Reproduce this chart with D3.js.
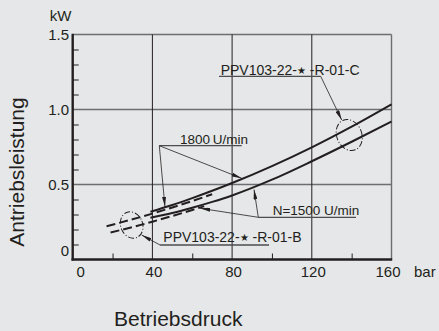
<!DOCTYPE html>
<html>
<head>
<meta charset="utf-8">
<script src="https://cdn.jsdelivr.net/npm/d3@7"></script>
<style>
  html, body { margin: 0; padding: 0; background: #e6e7e8; }
  svg { display: block; font-family: "Liberation Sans", Arial, Helvetica, sans-serif; }
</style>
</head>
<body>
<svg id="chart" width="439" height="331"></svg>
<script>
// Drive power vs. operating pressure, two pump variants at two speeds
const pressureTicks = [0, 40, 80, 120, 160];
const pressureMinor = [20, 60, 100, 140];
const powerTicks = [0, 0.5, 1.0, 1.5];
const powerTickLabels = ["0", "0.5", "1.0", "1.5"];
const powerMinor = [0.1, 0.2, 0.3, 0.4, 0.6, 0.7, 0.8, 0.9, 1.1, 1.2, 1.3, 1.4];

// PPV103-22-*-R-01-C (solid), bar -> kW
const c1800 = [[39, 0.318], [50, 0.363], [60, 0.409], [70, 0.458], [80, 0.51], [100, 0.623], [120, 0.748], [140, 0.886], [160, 1.035]];
const c1500 = [[39, 0.278], [50, 0.31], [60, 0.345], [70, 0.384], [80, 0.427], [100, 0.532], [120, 0.655], [140, 0.785], [160, 0.92]];
// PPV103-22-*-R-01-B (dashed)
const b1800 = [[17, 0.222], [30, 0.268], [40, 0.306], [50, 0.347], [60, 0.39], [70, 0.435]];
const b1500 = [[19, 0.18], [30, 0.216], [40, 0.252], [50, 0.29], [60, 0.33], [66, 0.355]];

const ink = "#231f20";
const grid = "#6d6e71";

const svg = d3.select("#chart");
const x = d3.scaleLinear().domain([0, 160]).range([72.7, 391.5]);
const y = d3.scaleLinear().domain([0, 1.5]).range([259.5, 34.5]);

// arrowhead marker
svg.append("defs").append("marker")
  .attr("id", "arrow").attr("viewBox", "0 0 10 4")
  .attr("refX", 10).attr("refY", 2)
  .attr("markerWidth", 10).attr("markerHeight", 4)
  .attr("markerUnits", "userSpaceOnUse")
  .attr("orient", "auto")
  .append("path").attr("d", "M0,0 L10,2 L0,4 Z").attr("fill", ink);

// horizontal grid (1.0, 0.5) and top border
svg.append("g").selectAll("line").data([0.5, 1.0, 1.5]).join("line")
  .attr("x1", x(0)).attr("x2", x(160))
  .attr("y1", d => y(d)).attr("y2", d => y(d))
  .attr("stroke", grid).attr("stroke-width", 1.4);

// vertical grid at 40/80/120 and right border
svg.append("g").selectAll("line").data([40, 80, 120]).join("line")
  .attr("x1", d => x(d)).attr("x2", d => x(d))
  .attr("y1", y(0)).attr("y2", y(1.5))
  .attr("stroke", ink).attr("stroke-width", 1);
svg.append("line")
  .attr("x1", x(160)).attr("x2", x(160)).attr("y1", y(0)).attr("y2", y(1.5))
  .attr("stroke", grid).attr("stroke-width", 1.4);

// minor ticks on the left axis, pointing inward
svg.append("g").attr("transform", `translate(${x(0)},0)`)
  .call(d3.axisRight(y).tickValues(powerMinor).tickSize(6).tickFormat(""))
  .call(g => g.select(".domain").remove())
  .call(g => g.selectAll("line").attr("stroke", ink).attr("stroke-width", 1));

// minor ticks on the bottom axis, pointing inward
svg.append("g").attr("transform", `translate(0,${y(0)})`)
  .call(d3.axisTop(x).tickValues(pressureMinor).tickSize(6).tickFormat(""))
  .call(g => g.select(".domain").remove())
  .call(g => g.selectAll("line").attr("stroke", ink).attr("stroke-width", 1));

// axis lines
svg.append("line").attr("x1", x(0)).attr("x2", x(0)).attr("y1", y(0) + 1).attr("y2", y(1.5) - 0.7)
  .attr("stroke", ink).attr("stroke-width", 2.4);
svg.append("line").attr("x1", x(0) - 1.2).attr("x2", x(160) + 0.7).attr("y1", y(0)).attr("y2", y(0))
  .attr("stroke", ink).attr("stroke-width", 2.4);

// tick labels
svg.append("g").selectAll("text").data(powerTicks).join("text")
  .attr("x", 69).attr("y", (d, i) => y(d) + 5.5 + (i === 0 ? -9 : 0))
  .attr("text-anchor", "end").attr("font-size", 15).attr("fill", ink)
  .text((d, i) => powerTickLabels[i]);
svg.append("g").selectAll("text").data(pressureTicks).join("text")
  .attr("x", (d, i) => x(d) + (i === 0 ? 8 : 1.5) - (i === 4 ? 5 : 0)).attr("y", 277)
  .attr("text-anchor", "middle").attr("font-size", 15).attr("fill", ink)
  .text(d => d);
svg.append("text").attr("x", 60.5).attr("y", 21).attr("text-anchor", "middle")
  .attr("font-size", 15).attr("fill", ink).text("kW");
svg.append("text").attr("x", 414).attr("y", 277)
  .attr("font-size", 15).attr("fill", ink).text("bar");

// axis titles
svg.append("text").attr("transform", "translate(24,172) rotate(-90)")
  .attr("text-anchor", "middle").attr("font-size", 21).attr("fill", ink)
  .text("Antriebsleistung");
svg.append("text").attr("x", 114).attr("y", 325.5)
  .attr("font-size", 21).attr("fill", ink).text("Betriebsdruck");

// curves
const line = d3.line().x(d => x(d[0])).y(d => y(d[1])).curve(d3.curveMonotoneX);
const curves = [
  { data: c1800, dash: null },
  { data: c1500, dash: null },
  { data: b1800, dash: "9,4" },
  { data: b1500, dash: "9,4" }
];
svg.append("g").selectAll("path").data(curves).join("path")
  .attr("d", d => line(d.data))
  .attr("fill", "none").attr("stroke", ink).attr("stroke-width", 2)
  .attr("stroke-dasharray", d => d.dash);

// dash-dot ellipses marking the two variants
const ellipses = [
  { bar: 138.8, kw: 0.83, rx: 12.5, ry: 16 },
  { bar: 29.6, kw: 0.23, rx: 11, ry: 13.5 }
];
svg.append("g").selectAll("ellipse").data(ellipses).join("ellipse")
  .attr("transform", d => `translate(${x(d.bar)},${y(d.kw)}) rotate(-22)`)
  .attr("rx", d => d.rx).attr("ry", d => d.ry)
  .attr("fill", "none").attr("stroke", ink).attr("stroke-width", 1)
  .attr("stroke-dasharray", "6,2,1,2");

// callouts: label, underline, leader lines with arrows
function callout(label, tx, ty, ux1, ux2, uy, tips, size) {
  const g = svg.append("g");
  const t = g.append("text").attr("x", tx).attr("y", ty)
    .attr("font-size", size).attr("fill", ink);
  label.forEach(p => {
    const s = t.append("tspan").text(p.t);
    if (p.small) s.attr("font-size", size * 0.7).attr("dy", -1);
    if (p.back) s.attr("dy", 1);
  });
  g.append("line").attr("x1", ux1).attr("x2", ux2).attr("y1", uy).attr("y2", uy)
    .attr("stroke", "#4d4d4f").attr("stroke-width", 1.3);
  tips.forEach(tp => {
    g.append("line").attr("x1", tp.from).attr("y1", uy)
      .attr("x2", tp.x).attr("y2", tp.y)
      .attr("stroke", ink).attr("stroke-width", 0.8)
      .attr("marker-end", "url(#arrow)");
  });
}

callout([{ t: "PPV103-22-" }, { t: "★", small: true }, { t: " -R-01-C", back: true }],
  220.7, 75, 219, 320.7, 76.3,
  [{ from: 320.7, x: 341.7, y: 120 }], 14);
callout([{ t: "PPV103-22-" }, { t: "★", small: true }, { t: " -R-01-B", back: true }],
  163.3, 241.7, 160, 269, 245,
  [{ from: 160, x: 141.7, y: 235 }], 14);
callout([{ t: "N=1500 U/min" }],
  272.7, 215, 258.3, 356, 217.3,
  [{ from: 258.3, x: x(91), y: 189.5 }, { from: 258.3, x: x(64), y: 208.3 }], 13.5);
callout([{ t: "1800\u2009U/min" }],
  180, 144, 159.3, 241.7, 145.7,
  [{ from: 159.3, x: x(46.3), y: 206.7 }, { from: 159.3, x: x(84.8), y: 178.3 }], 13.5);
</script>
</body>
</html>
